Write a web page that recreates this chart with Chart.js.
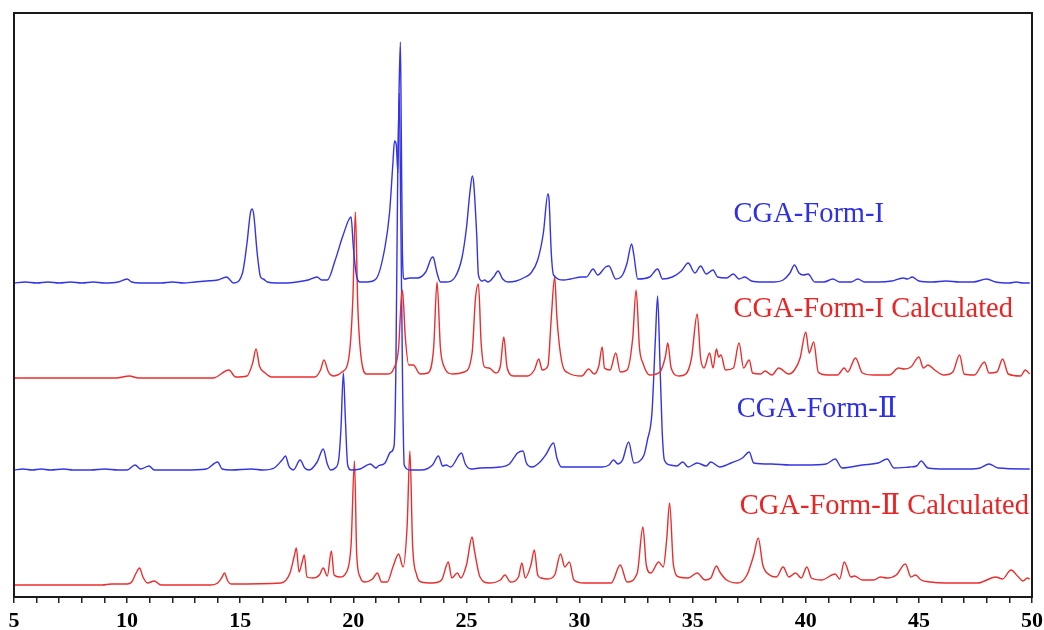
<!DOCTYPE html>
<html>
<head>
<meta charset="utf-8">
<script src="https://cdn.jsdelivr.net/npm/chart.js@4/dist/chart.umd.min.js"></script>
<style>
  html, body { margin: 0; padding: 0; background: #fff; }
  #wrap { width: 1044px; height: 630px; }
</style>
</head>
<body>
<div id="wrap"><canvas id="xrd" width="1044" height="630"></canvas></div>
<script>
// 2-theta (deg) vs intensity above each pattern's own baseline, arbitrary units
const formI = [
  [5.0, 0], [5.5, 1], [6.0, 0], [6.5, 1], [7.0, 0], [7.5, 1], [8.0, 0], [8.5, 1], [9.0, 0], [9.6, 1],
  [10.0, 4], [10.2, 1], [10.6, 0], [11.5, 0], [12.0, 1], [12.5, 0], [13.0, 1], [13.5, 2], [14.0, 3],
  [14.4, 6], [14.55, 3], [14.7, 0], [15.1, 10], [15.3, 40], [15.45, 70], [15.53, 74], [15.6, 68],
  [15.75, 30], [15.9, 6], [16.02, 4], [16.2, 1], [16.6, 0], [17.0, 0], [17.5, 1], [18.0, 3], [18.4, 6],
  [18.6, 3], [18.85, 3], [19.2, 23], [19.55, 48], [19.9, 66], [20.0, 36], [20.15, 6], [20.3, 1],
  [20.6, 1], [21.0, 4], [21.4, 36], [21.6, 70], [21.75, 120], [21.82, 142], [21.9, 138], [21.97, 110],
  [22.02, 190], [22.08, 241], [22.12, 150], [22.17, 30], [22.25, 4], [22.5, 5], [22.83, 5], [23.2, 11],
  [23.5, 26], [23.55, 25], [23.7, 10], [23.85, 1], [24.1, 1], [24.5, 6], [24.8, 25], [25.0, 55],
  [25.15, 90], [25.26, 107], [25.32, 100], [25.45, 50], [25.53, 8], [25.7, 2], [25.8, 3], [25.95, 1],
  [26.2, 6], [26.4, 12], [26.6, 4], [26.85, 1], [27.2, 2], [27.6, 6], [27.85, 10], [28.15, 23],
  [28.4, 50], [28.6, 89], [28.65, 84], [28.75, 30], [28.85, 8], [29.3, 3], [29.6, 4], [30.1, 6],
  [30.3, 6], [30.6, 14], [30.8, 8], [31.15, 16], [31.3, 17], [31.6, 4], [31.9, 8], [32.1, 20],
  [32.3, 39], [32.4, 28], [32.57, 4], [33.1, 6], [33.45, 14], [33.67, 4], [34.1, 6], [34.5, 12],
  [34.8, 20], [35.1, 10], [35.35, 17], [35.6, 9], [35.9, 13], [36.1, 6], [36.5, 5], [36.8, 9],
  [37.05, 4], [37.3, 6], [37.6, 2], [38.1, 1], [38.6, 1], [39.0, 3], [39.3, 10], [39.5, 18],
  [39.7, 10], [39.9, 8], [40.1, 9], [40.4, 1], [40.8, 1], [41.2, 4], [41.5, 1], [42.0, 1], [42.3, 4],
  [42.6, 1], [43.2, 1], [43.8, 2], [44.3, 5], [44.5, 4], [44.7, 6], [45.0, 2], [45.6, 1], [46.2, 2],
  [46.8, 1], [47.4, 1], [48.0, 4], [48.4, 1], [49.0, 0], [49.3, 1], [49.6, 0], [49.9, 0]
];

const formICalc = [
  [5.0, 0], [9.5, 0], [10.1, 2], [10.5, 0], [13.8, 0], [14.5, 8], [14.8, 1], [15.3, 2], [15.55, 15],
  [15.7, 29], [15.85, 12], [16.1, 5], [16.4, 1], [18.3, 1], [18.55, 8], [18.7, 18], [18.9, 6],
  [19.1, 2], [19.5, 6], [19.8, 20], [19.98, 80], [20.09, 166], [20.2, 70], [20.4, 12], [20.6, 4],
  [21.0, 4], [21.5, 4], [21.8, 10], [22.0, 30], [22.12, 80], [22.17, 88], [22.3, 40], [22.45, 13],
  [22.65, 13], [22.95, 4], [23.3, 5], [23.55, 30], [23.7, 96], [23.85, 30], [24.0, 12], [24.4, 4],
  [24.9, 6], [25.25, 25], [25.4, 80], [25.53, 94], [25.65, 35], [25.8, 11], [26.0, 10], [26.3, 5],
  [26.5, 12], [26.65, 41], [26.8, 10], [27.1, 2], [27.7, 2], [28.0, 8], [28.2, 19], [28.35, 8],
  [28.6, 12], [28.75, 60], [28.9, 101], [29.0, 60], [29.2, 18], [29.5, 5], [30.1, 2], [30.4, 9],
  [30.65, 4], [30.85, 12], [31.0, 31], [31.1, 10], [31.35, 8], [31.6, 25], [31.8, 6], [32.1, 8],
  [32.35, 40], [32.5, 88], [32.65, 30], [32.8, 15], [33.1, 3], [33.55, 6], [33.8, 22], [33.9, 35],
  [34.05, 10], [34.4, 2], [34.7, 4], [34.95, 20], [35.2, 64], [35.35, 20], [35.5, 10], [35.75, 25],
  [35.9, 10], [36.05, 29], [36.15, 21], [36.25, 23], [36.45, 8], [36.8, 10], [37.05, 35], [37.25, 10],
  [37.5, 18], [37.65, 5], [38.0, 4], [38.2, 7], [38.5, 3], [38.8, 10], [39.25, 4], [39.5, 8],
  [39.75, 20], [40.0, 46], [40.15, 25], [40.35, 36], [40.55, 6], [40.95, 3], [41.4, 3], [41.7, 10],
  [41.85, 6], [42.2, 20], [42.5, 5], [43.0, 3], [43.7, 3], [44.1, 10], [44.35, 9], [44.65, 11],
  [45.0, 21], [45.2, 10], [45.4, 13], [45.7, 8], [46.1, 3], [46.5, 6], [46.8, 23], [47.0, 4],
  [47.45, 3], [47.9, 16], [48.1, 5], [48.45, 6], [48.7, 19], [48.95, 4], [49.5, 2], [49.7, 8], [49.9, 4]
];

const formII = [
  [5.0, 0], [5.4, 1], [5.8, 0], [6.2, 1], [6.6, 0], [7.2, 1], [7.6, 0], [8.4, 0], [9.0, 1], [9.6, 0],
  [10.0, 0], [10.35, 5], [10.6, 1], [10.97, 4], [11.2, 0], [11.6, 0], [12.5, 0], [13.5, 1], [14.0, 8],
  [14.2, 1], [14.6, 0], [15.5, 1], [16.0, 0], [16.5, 2], [16.85, 10], [17.0, 14], [17.15, 4],
  [17.35, 0], [17.65, 10], [17.85, 2], [18.05, 0], [18.4, 8], [18.67, 21], [18.85, 6], [19.0, 0],
  [19.2, 2], [19.35, 10], [19.45, 40], [19.56, 97], [19.65, 50], [19.75, 5], [19.9, 0], [20.3, 1],
  [20.75, 6], [21.0, 2], [21.1, 4], [21.4, 7], [21.65, 18], [21.8, 24], [21.88, 100], [21.96, 290],
  [22.03, 377], [22.1, 250], [22.18, 80], [22.25, 5], [22.5, 0], [23.0, 0], [23.5, 5], [23.76, 14],
  [23.95, 4], [24.1, 5], [24.3, 3], [24.78, 17], [24.95, 6], [25.2, 1], [25.6, 2], [26.5, 3],
  [26.9, 6], [27.26, 17], [27.5, 19], [27.65, 7], [27.9, 3], [28.25, 8], [28.5, 15], [28.85, 27],
  [29.0, 12], [29.2, 3], [30.0, 3], [31.0, 3], [31.3, 5], [31.5, 10], [31.7, 6], [31.9, 10],
  [32.17, 28], [32.4, 7], [32.6, 8], [32.85, 15], [33.0, 30], [33.2, 57], [33.35, 130], [33.45, 174],
  [33.55, 110], [33.65, 40], [33.75, 10], [34.0, 5], [34.3, 4], [34.56, 8], [34.8, 3], [35.2, 7],
  [35.6, 4], [35.8, 8], [36.2, 3], [36.7, 7], [37.2, 12], [37.5, 18], [37.7, 7], [38.5, 6], [39.3, 5],
  [40.0, 5], [40.9, 6], [41.3, 11], [41.6, 2], [42.5, 5], [43.2, 7], [43.6, 11], [43.9, 2], [44.6, 3],
  [44.9, 4], [45.1, 9], [45.4, 2], [46.2, 1], [47.2, 1], [47.7, 2], [48.1, 6], [48.5, 2], [49.9, 1]
];

const formIICalc = [
  [5.0, 0], [8.9, 0], [9.3, 1], [9.8, 1], [10.0, 1], [10.2, 3], [10.4, 12], [10.55, 17], [10.7, 8],
  [10.9, 2], [11.2, 4], [11.5, 0], [13.7, 0], [14.0, 2], [14.2, 8], [14.3, 12], [14.45, 4], [14.6, 1],
  [16.8, 2], [17.2, 12], [17.4, 30], [17.48, 37], [17.6, 13], [17.75, 24], [17.83, 30], [17.95, 8],
  [18.2, 7], [18.5, 10], [18.67, 17], [18.85, 9], [19.03, 34], [19.15, 10], [19.4, 8], [19.7, 13],
  [19.9, 40], [20.05, 124], [20.15, 30], [20.3, 8], [20.5, 3], [20.85, 6], [21.06, 12], [21.25, 3],
  [21.5, 3], [21.75, 18], [22.0, 31], [22.2, 18], [22.38, 60], [22.5, 134], [22.62, 40], [22.8, 10],
  [23.0, 3], [23.5, 2], [23.9, 5], [24.2, 23], [24.35, 7], [24.6, 12], [24.75, 7], [25.0, 20],
  [25.25, 48], [25.35, 35], [25.6, 8], [26.0, 2], [26.5, 5], [26.7, 10], [26.95, 3], [27.3, 8],
  [27.45, 22], [27.6, 7], [27.85, 20], [28.0, 35], [28.15, 10], [28.3, 7], [28.6, 6], [28.9, 10],
  [29.16, 31], [29.35, 18], [29.55, 23], [29.75, 5], [30.2, 2], [31.4, 2], [31.8, 20], [32.1, 3],
  [32.55, 12], [32.8, 58], [32.95, 20], [33.15, 12], [33.5, 23], [33.7, 18], [33.85, 45], [33.98, 82],
  [34.15, 20], [34.4, 8], [34.8, 7], [35.2, 12], [35.55, 5], [35.8, 7], [36.05, 19], [36.2, 13],
  [36.5, 5], [37.0, 2], [37.4, 10], [37.7, 30], [37.9, 47], [38.1, 20], [38.4, 10], [38.7, 8],
  [39.0, 18], [39.25, 8], [39.55, 12], [39.8, 7], [40.05, 18], [40.25, 7], [40.7, 5], [41.3, 11],
  [41.5, 6], [41.7, 23], [42.0, 8], [42.15, 9], [42.5, 5], [43.0, 5], [43.3, 8], [43.6, 7], [44.0, 10],
  [44.4, 21], [44.65, 8], [44.85, 10], [45.1, 5], [45.5, 3], [46.2, 2], [46.9, 2], [47.6, 2],
  [48.4, 8], [48.7, 6], [49.07, 15], [49.4, 8], [49.6, 4], [49.8, 7], [49.9, 6]
];

// vertical stacking of the four patterns (same units as intensity)
const stackOffsets = [314, 219, 127, 12];
const seriesNames = ['CGA-Form-I', 'CGA-Form-I Calculated', 'CGA-Form-\u2161', 'CGA-Form-\u2161 Calculated'];
const patterns = [formI, formICalc, formII, formIICalc];
const xTicks = [5, 10, 15, 20, 25, 30, 35, 40, 45, 50];

const BLUE = '#3434e4';
const RED = '#ec2d2d';
const colors = [BLUE, RED, BLUE, RED];

const serif = '"Liberation Serif", "DejaVu Serif", "Times New Roman", serif';

// box around the plot area
const frame = {
  id: 'frame',
  afterDraw(chart) {
    const { ctx, chartArea: a } = chart;
    ctx.save();
    ctx.strokeStyle = '#1a1a1a';
    ctx.lineWidth = 2;
    ctx.strokeRect(a.left, a.top, a.right - a.left, a.bottom - a.top);
    ctx.restore();
  }
};

// pattern names written next to each trace
const traceLabels = {
  id: 'traceLabels',
  afterDatasetsDraw(chart, args, opts) {
    const { ctx, scales: { x, y } } = chart;
    ctx.save();
    ctx.font = opts.font;
    ctx.textAlign = 'left';
    ctx.textBaseline = 'alphabetic';
    opts.items.forEach(it => {
      ctx.fillStyle = it.color;
      ctx.fillText(it.text, x.getPixelForValue(it.x), y.getPixelForValue(it.y));
    });
    ctx.restore();
  }
};

new Chart(document.getElementById('xrd').getContext('2d'), {
  type: 'line',
  data: {
    datasets: patterns.map((p, i) => ({
      label: seriesNames[i],
      data: p.map(([t, v]) => ({ x: t, y: v + stackOffsets[i] })),
      borderColor: colors[i],
      borderWidth: 1.4,
      pointRadius: 0,
      cubicInterpolationMode: 'monotone',
      fill: false
    }))
  },
  options: {
    responsive: false,
    animation: false,
    devicePixelRatio: 1,
    layout: { padding: { left: 14, right: 12, top: 13, bottom: 0 } },
    plugins: {
      legend: { display: false },
      tooltip: { enabled: false },
      traceLabels: {
        font: '28.5px ' + serif,
        items: [
          { text: seriesNames[0], x: 36.81, y: 375, color: '#2f2fe6' },
          { text: seriesNames[1], x: 36.81, y: 280, color: '#ea2424' },
          { text: seriesNames[2], x: 36.95, y: 180, color: '#2f2fe6' },
          { text: seriesNames[3], x: 37.08, y: 83, color: '#ea2424' }
        ]
      }
    },
    scales: {
      x: {
        type: 'linear',
        min: 5,
        max: 50,
        afterFit: s => {
          s.height = 33;
          // end labels may hang past the frame; keep the plot width fixed
          s.paddingLeft = 0;
          s.paddingRight = 0;
        },
        border: { display: false },
        grid: {
          drawOnChartArea: false,
          drawTicks: true,
          tickLength: 6,
          color: '#222',
          lineWidth: 1.5
        },
        ticks: {
          stepSize: 1,
          autoSkip: false,
          maxRotation: 0,
          padding: 5,
          color: '#000',
          font: { family: serif, size: 22, weight: 'bold' },
          callback: v => xTicks.includes(v) ? String(v) : ''
        }
      },
      y: {
        display: false,
        min: 0,
        max: 584
      }
    }
  },
  plugins: [frame, traceLabels]
});
</script>
</body>
</html>
